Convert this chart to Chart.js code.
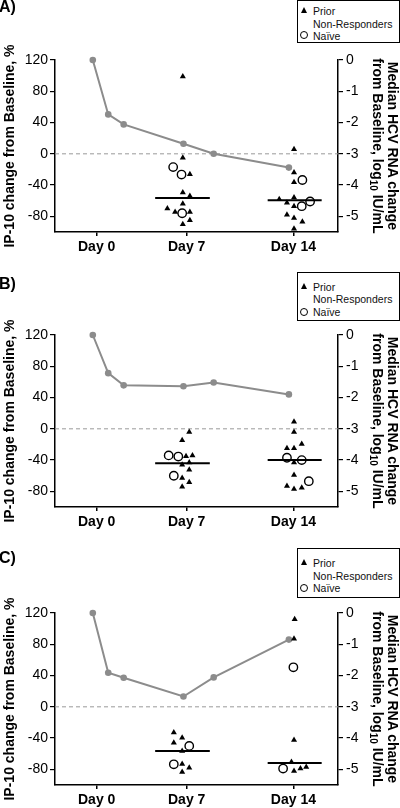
<!DOCTYPE html>
<html>
<head>
<meta charset="utf-8">
<script src="https://cdn.jsdelivr.net/npm/chart.js@4.4.1/dist/chart.umd.min.js"></script>
<style>
  html, body { margin: 0; padding: 0; background: #fff; }
  body { width: 400px; height: 808px; position: relative; overflow: hidden; font-family: "Liberation Sans", Arial, sans-serif; }
  .panel { position: absolute; left: 0; width: 400px; height: 255px; }
  .tag { position: absolute; left: -1px; font: bold 16px/16px "Liberation Sans", Arial, sans-serif; color: #000; }
  .rtitle { position: absolute; left: 285px; width: 200px; height: 30px; font: bold 14px/15px "Liberation Sans", Arial, sans-serif;
            color: #000; text-align: center; white-space: nowrap; transform: rotate(90deg); transform-origin: 50% 50%; }
  .rtitle sub { font-size: 10px; line-height: 0; vertical-align: -3px; }
  .leg { position: absolute; left: 297px; width: 101px; border: 1px solid #000; background: #fff; font-size: 10.5px; color: #111; }
  .leg span { position: absolute; left: 15px; line-height: 12px; white-space: nowrap; }
  .leg .tri { position: absolute; left: 3px; width: 0; height: 0; border-left: 3px solid transparent; border-right: 3px solid transparent; border-bottom: 6px solid #000; }
  .leg .circ { position: absolute; left: 2px; width: 6px; height: 6px; border: 1.3px solid #000; border-radius: 50%; }
</style>
</head>
<body>
<canvas id="chartA" class="panel" style="top:0px" width="400" height="255"></canvas>
<canvas id="chartB" class="panel" style="top:275px" width="400" height="255"></canvas>
<canvas id="chartC" class="panel" style="top:553px" width="400" height="255"></canvas>
<div class="tag" style="top:-1px">A)</div>
<div class="tag" style="top:276px">B)</div>
<div class="tag" style="top:550px">C)</div>
<div class="rtitle" style="top:131px">Median HCV RNA change<br>from Baseline, log<sub>10</sub> IU/mL</div>
<div class="rtitle" style="top:406px">Median HCV RNA change<br>from Baseline, log<sub>10</sub> IU/mL</div>
<div class="rtitle" style="top:684px">Median HCV RNA change<br>from Baseline, log<sub>10</sub> IU/mL</div>

<script>
// ===================== Data =====================
// x positions are in "day" units along the axis (Day 14 tick sits a bit further out)
const dayPos = [0, 7, 15.3];
const dayLabels = ["Day 0", "Day 7", "Day 14"];
const ipTicks = [120, 80, 40, 0, -40, -80];
const rnaTicks = [0, -1, -2, -3, -4, -5];

// median HCV RNA change (log10 IU/mL), grey line
const rnaX = [-0.3, 0.9, 2.1, 6.75, 9.1, 14.95];
const rnaA = [0, -1.74, -2.06, -2.68, -3.0, -3.44];
const rnaB = [0, -1.22, -1.61, -1.64, -1.52, -1.9];
const rnaC = [0, -1.91, -2.07, -2.67, -2.06, -0.85];

// IP-10 change, individual patients [x, %]
const priorA = [[6.7, 99], [6.7, -5], [7.25, -26], [6.7, -49.5], [7.25, -54], [6.7, -64], [5.5, -70], [6.1, -74.5], [7.25, -74.5], [7.25, -85], [6.7, -90],
                [15.35, 6], [15.35, -24], [15.35, -36.5], [14.2, -58], [14.8, -62.5], [15.35, -56], [15.35, -67], [14.8, -78], [15.35, -82], [16.0, -87], [15.35, -96]];
const naiveA = [[5.95, -17], [6.6, -26.5], [6.65, -76], [16.0, -33.5], [16.6, -61], [15.95, -67]];

const priorB = [[7.2, -4], [6.65, -14.5], [6.95, -35], [7.45, -34], [6.65, -46], [7.2, -43], [7.2, -52.5], [6.65, -63], [7.2, -68.5], [6.65, -74],
                [15.35, 9], [15.35, -4], [14.8, -25], [15.35, -25], [15.95, -19.5], [15.35, -43], [15.35, -59], [14.8, -73], [15.35, -77], [15.95, -75.5]];
const naiveB = [[5.6, -34], [6.35, -35.5], [6.0, -60], [14.8, -37], [15.95, -40], [16.5, -67]];

const priorC = [[6.0, -33], [6.65, -39.5], [6.0, -46], [6.65, -56.5], [6.65, -73], [7.2, -78], [6.65, -83.5],
                [15.4, 112], [15.35, 87], [15.35, -42.5], [15.15, -70.5], [15.35, -82], [15.85, -79], [16.3, -77]];
const naiveC = [[7.2, -50], [6.0, -73.5], [15.3, 50.5], [14.5, -79]];

// median bars
const medianSpan = [[4.55, 8.8], [13.3, 17.5]];
const medianA = [-56.5, -59.5];
const medianB = [-44, -40];
const medianC = [-56.5, -72];

// ===================== Helpers =====================
Chart.defaults.font.family = '"Liberation Sans", Arial, sans-serif';
Chart.defaults.color = "#000";

const toPts = (list) => list.map(([x, y]) => ({ x, y }));

// dashed reference line at 0 %
const zeroLine = {
  id: "zeroLine",
  beforeDatasetsDraw(chart) {
    const { ctx, chartArea, scales } = chart;
    const y = scales.y.getPixelForValue(0);
    ctx.save();
    ctx.strokeStyle = "#999";
    ctx.lineWidth = 1;
    ctx.setLineDash([4, 3]);
    ctx.beginPath();
    ctx.moveTo(chartArea.left, y);
    ctx.lineTo(chartArea.right, y);
    ctx.stroke();
    ctx.restore();
  }
};

function makePanel(id, rna, prior, naive, medians) {
  const H = 255;
  const medianSets = medians.map((m, i) => ({
    type: "line",
    data: [{ x: medianSpan[i][0], y: m }, { x: medianSpan[i][1], y: m }],
    borderColor: "#000",
    borderWidth: 2,
    pointRadius: 0,
    clip: false
  }));

  new Chart(document.getElementById(id), {
    type: "scatter",
    data: {
      datasets: [
        ...medianSets,
        {
          data: toPts(prior),
          pointStyle: "triangle",
          pointRadius: 3.5,
          backgroundColor: "#000",
          borderColor: "#000",
          borderWidth: 0,
          clip: false
        },
        {
          data: toPts(naive),
          pointStyle: "circle",
          pointRadius: 4.2,
          backgroundColor: "#fff",
          borderColor: "#000",
          borderWidth: 1.4,
          clip: false
        },
        {
          type: "line",
          yAxisID: "y2",
          data: rnaX.map((x, i) => ({ x, y: rna[i] })),
          borderColor: "#8c8c8c",
          borderWidth: 2,
          pointRadius: 3.3,
          pointBackgroundColor: "#8c8c8c",
          pointBorderWidth: 0,
          clip: false
        }
      ]
    },
    options: {
      responsive: false,
      animation: false,
      devicePixelRatio: 1,
      layout: { padding: { top: 60, left: 0, right: 0, bottom: 0 } },
      plugins: { legend: { display: false }, tooltip: { enabled: false } },
      scales: {
        x: {
          type: "linear",
          min: -3.24,
          max: 18.77,
          afterBuildTicks: (s) => { s.ticks = dayPos.map((v) => ({ value: v })); },
          afterFit: (s) => { s.height = H - 232; },
          ticks: {
            callback: (v, i) => dayLabels[i],
            font: { size: 14, weight: "bold" },
            padding: 3,
            autoSkip: false,
            maxRotation: 0
          },
          grid: { drawOnChartArea: false, tickLength: 4, color: "#000", lineWidth: 1.5 },
          border: { color: "#000", width: 1.5 }
        },
        y: {
          position: "left",
          min: -100,
          max: 120,
          afterBuildTicks: (s) => { s.ticks = ipTicks.map((v) => ({ value: v })); },
          afterFit: (s) => { s.width = 55; },
          ticks: { font: { size: 14 }, padding: 2 },
          grid: { drawOnChartArea: false, tickLength: 5, color: "#000", lineWidth: 1.2 },
          border: { color: "#000", width: 1.5 },
          title: {
            display: true,
            text: "IP-10 change from Baseline, %",
            font: { size: 14, weight: "bold", lineHeight: 1.07 },
            padding: { top: 2.5, bottom: 0 }
          }
        },
        y2: {
          position: "right",
          min: -5.5,
          max: 0,
          afterBuildTicks: (s) => { s.ticks = rnaTicks.map((v) => ({ value: v })); },
          afterFit: (s) => { s.width = 62; },
          ticks: { font: { size: 14 }, padding: 3 },
          grid: { drawOnChartArea: false, tickLength: 5, color: "#000", lineWidth: 1.2 },
          border: { color: "#000", width: 1.5 }
        }
      }
    },
    plugins: [zeroLine]
  });
}

// ===================== Legend boxes =====================
function makeLegend(top, height, rows) {
  const box = document.createElement("div");
  box.className = "leg";
  box.style.top = top + "px";
  box.style.height = height + "px";
  const tri = document.createElement("div");
  tri.className = "tri";
  tri.style.top = (rows[0] - 5) + "px";
  box.appendChild(tri);
  const circ = document.createElement("div");
  circ.className = "circ";
  circ.style.top = (rows[2] - 5.3) + "px";
  box.appendChild(circ);
  ["Prior", "Non-Responders", "Na\u00efve"].forEach((t, i) => {
    const s = document.createElement("span");
    s.textContent = t;
    s.style.top = (rows[i] - 7) + "px";
    box.appendChild(s);
  });
  document.body.appendChild(box);
}

makePanel("chartA", rnaA, priorA, naiveA, medianA);
makePanel("chartB", rnaB, priorB, naiveB, medianB);
makePanel("chartC", rnaC, priorC, naiveC, medianC);

makeLegend(0, 41, [11, 23.5, 35.5]);
makeLegend(272, 47, [14.5, 27, 40]);
makeLegend(548, 48, [15, 27.5, 40]);
</script>
</body>
</html>
